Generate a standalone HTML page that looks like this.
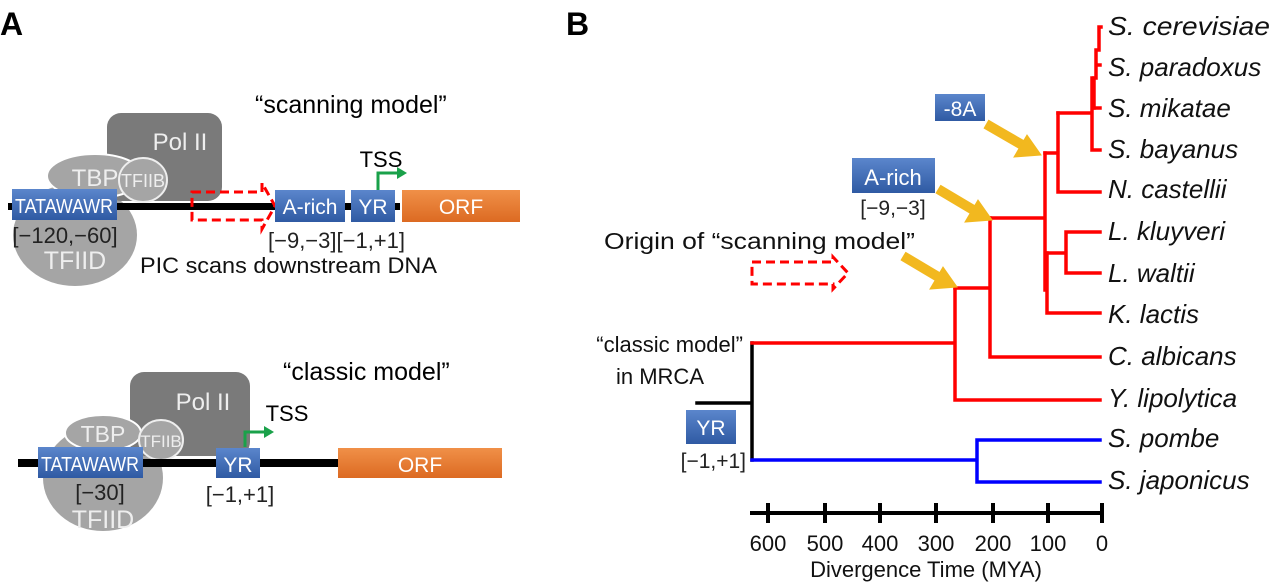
<!DOCTYPE html>
<html><head><meta charset="utf-8"><style>
html,body{margin:0;padding:0;background:#fff}
svg{display:block}
text{font-family:"Liberation Sans",sans-serif}
</style></head><body>
<svg width="1280" height="583" viewBox="0 0 1280 583" xmlns="http://www.w3.org/2000/svg">
<defs>
<linearGradient id="bl" x1="0" y1="0" x2="0" y2="1"><stop offset="0" stop-color="#5b86cc"/><stop offset="1" stop-color="#2f5aa3"/></linearGradient>
<linearGradient id="or" x1="0" y1="0" x2="0" y2="1"><stop offset="0" stop-color="#f09048"/><stop offset="1" stop-color="#dc6a22"/></linearGradient>
</defs>
<text x="0" y="35" font-size="32" font-weight="bold">A</text>
<text x="566" y="35" font-size="32" font-weight="bold">B</text>

<!-- Panel A top -->
<text x="255" y="113" font-size="25">“scanning model”</text>
<ellipse cx="75" cy="235" rx="62" ry="51" fill="#a5a5a5"/>
<rect x="107" y="113" width="115" height="88" rx="14" fill="#7a7a7a"/>
<text x="180" y="150" font-size="24" fill="#eee" text-anchor="middle">Pol II</text>
<ellipse cx="95" cy="176" rx="48" ry="22" fill="#a5a5a5" stroke="#fff" stroke-width="2"/>
<text x="95" y="186" font-size="24" fill="#eee" text-anchor="middle">TBP</text>
<ellipse cx="143" cy="180" rx="24" ry="22" fill="#a5a5a5" stroke="#eee" stroke-width="2"/>
<text x="143" y="187" font-size="18" fill="#eee" text-anchor="middle">TFIIB</text>
<rect x="8" y="203" width="392" height="7" fill="#000"/>
<rect x="12" y="189" width="105" height="31" fill="url(#bl)"/>
<text x="64" y="213" font-size="20" fill="#fff" text-anchor="middle" textLength="98" lengthAdjust="spacingAndGlyphs">TATAWAWR</text>
<text x="65" y="243" font-size="22" fill="#222" text-anchor="middle">[−120,−60]</text>
<text x="75" y="269" font-size="25" fill="#eee" text-anchor="middle">TFIID</text>
<path d="M192 192 H262 V183 L275 206 L262 229 V220 H192 Z" fill="none" stroke="#f00" stroke-width="3" stroke-dasharray="9,5"/>
<rect x="275" y="190" width="70" height="32" fill="url(#bl)"/>
<text x="310" y="214" font-size="21" fill="#fff" text-anchor="middle">A-rich</text>
<rect x="351" y="190" width="44" height="32" fill="url(#bl)"/>
<text x="373" y="214" font-size="21" fill="#fff" text-anchor="middle">YR</text>
<rect x="402" y="190" width="118" height="32" fill="url(#or)"/>
<text x="461" y="214" font-size="21" fill="#fff" text-anchor="middle">ORF</text>
<text x="381" y="167" font-size="22" text-anchor="middle">TSS</text>
<path d="M378 190 V173 H398" fill="none" stroke="#1aa14a" stroke-width="3"/>
<path d="M397 167 L407 173 L397 179 Z" fill="#1aa14a"/>
<text x="268" y="248" font-size="22" fill="#222">[−9,−3][−1,+1]</text>
<text x="140" y="273" font-size="22" fill="#111" textLength="297" lengthAdjust="spacingAndGlyphs">PIC scans downstream DNA</text>

<!-- Panel A bottom -->
<text x="283" y="380" font-size="25">“classic model”</text>
<ellipse cx="103" cy="478" rx="60" ry="53" fill="#a5a5a5"/>
<rect x="130" y="372" width="120" height="84" rx="14" fill="#7a7a7a"/>
<text x="203" y="410" font-size="24" fill="#eee" text-anchor="middle">Pol II</text>
<ellipse cx="103" cy="433" rx="38" ry="18" fill="#a5a5a5" stroke="#fff" stroke-width="2"/>
<text x="103" y="442" font-size="23" fill="#eee" text-anchor="middle">TBP</text>
<ellipse cx="161" cy="440" rx="22" ry="20" fill="#a5a5a5" stroke="#eee" stroke-width="2"/>
<text x="161" y="447" font-size="17" fill="#eee" text-anchor="middle">TFIIB</text>
<rect x="18" y="459" width="322" height="8" fill="#000"/>
<rect x="38" y="447" width="105" height="31" fill="url(#bl)"/>
<text x="90" y="471" font-size="20" fill="#fff" text-anchor="middle" textLength="98" lengthAdjust="spacingAndGlyphs">TATAWAWR</text>
<text x="100" y="500" font-size="22" fill="#222" text-anchor="middle">[−30]</text>
<text x="103" y="528" font-size="25" fill="#eee" text-anchor="middle">TFIID</text>
<rect x="216" y="448" width="44" height="30" fill="url(#bl)"/>
<text x="238" y="472" font-size="21" fill="#fff" text-anchor="middle">YR</text>
<rect x="338" y="448" width="164" height="30" fill="url(#or)"/>
<text x="420" y="472" font-size="21" fill="#fff" text-anchor="middle">ORF</text>
<text x="287" y="421" font-size="22" text-anchor="middle">TSS</text>
<path d="M245 447 V432 H265" fill="none" stroke="#1aa14a" stroke-width="3"/>
<path d="M264 426 L274 432 L264 438 Z" fill="#1aa14a"/>
<text x="240" y="502" font-size="22" fill="#222" text-anchor="middle">[−1,+1]</text>

<!-- Panel B tree -->
<g fill="none" stroke-width="3.5" stroke-linecap="square">
<path d="M697 403 H752 M752 343 V460" stroke="#000"/>
<path d="M752 460 H977 M977 440 V482 M977 440 H1100 M977 482 H1100" stroke="#00f"/>
<g stroke="#f00">
<path d="M752 343 H955 M955 288 V400 M955 400 H1100"/>
<path d="M955 288 H990 M990 218 V357 M990 357 H1100"/>
<path d="M990 218 H1045 M1045 153 V290 M1047 253 V313 M1047 313 H1100"/>
<path d="M1047 253 H1066 M1066 232 V273 M1066 232 H1100 M1066 273 H1100"/>
<path d="M1045 153 H1058 M1058 113 V192 M1058 192 H1100"/>
<path d="M1058 113 H1092 M1092 78 V150 M1092 150 H1100 M1092 108 H1100"/>
<path d="M1094 78 V108 M1096 50 V78 M1096 65 H1100 M1099 27 V50 M1099 27 H1101"/>
</g>
</g>
<g font-size="26" font-style="italic" fill="#111">
<text x="1108" y="35" textLength="162" lengthAdjust="spacingAndGlyphs">S. cerevisiae</text>
<text x="1108" y="76">S. paradoxus</text>
<text x="1108" y="117">S. mikatae</text>
<text x="1108" y="158">S. bayanus</text>
<text x="1108" y="198">N. castellii</text>
<text x="1108" y="240">L. kluyveri</text>
<text x="1108" y="282">L. waltii</text>
<text x="1108" y="323">K. lactis</text>
<text x="1108" y="365">C. albicans</text>
<text x="1108" y="407">Y. lipolytica</text>
<text x="1108" y="447">S. pombe</text>
<text x="1108" y="489">S. japonicus</text>
</g>
<!-- axis -->
<g stroke="#000" stroke-width="4">
<path d="M750 513 H1102"/>
<path d="M768 503 V523 M825 503 V523 M880 503 V523 M936 503 V523 M993 503 V523 M1048 503 V523 M1102 503 V523"/>
</g>
<g font-size="22" text-anchor="middle" fill="#111">
<text x="768" y="551">600</text><text x="825" y="551">500</text><text x="880" y="551">400</text><text x="936" y="551">300</text><text x="993" y="551">200</text><text x="1048" y="551">100</text><text x="1102" y="551">0</text>
<text x="926" y="577">Divergence  Time  (MYA)</text>
</g>
<!-- annotations -->
<text x="743" y="352" font-size="22" text-anchor="end" fill="#111">“classic model”</text>
<text x="660" y="384" font-size="22" text-anchor="middle" fill="#111">in MRCA</text>
<rect x="686" y="410" width="50" height="34" fill="url(#bl)"/>
<text x="711" y="435" font-size="21" fill="#fff" text-anchor="middle">YR</text>
<text x="746" y="468" font-size="21" text-anchor="end" fill="#222">[−1,+1]</text>
<text x="604" y="249" font-size="23" fill="#111" textLength="311" lengthAdjust="spacingAndGlyphs">Origin of “scanning model”</text>
<path d="M752 262 H833 V257 L848 273 L833 289 V284 H752 Z" fill="none" stroke="#f00" stroke-width="3" stroke-dasharray="9,5"/>
<rect x="852" y="158" width="83" height="35" fill="url(#bl)"/>
<text x="893" y="185" font-size="22" fill="#fff" text-anchor="middle">A-rich</text>
<text x="893" y="215" font-size="21" text-anchor="middle" fill="#222">[−9,−3]</text>
<rect x="935" y="94" width="50" height="27" fill="url(#bl)"/>
<text x="960" y="116" font-size="21" fill="#fff" text-anchor="middle">-8A</text>
<g stroke="#f2b81f" stroke-width="10" fill="#f2b81f">
<path d="M986 124 L1024 146" fill="none"/>
<path d="M1041 155 L1014 157 L1027 135 Z" stroke-width="1"/>
<path d="M938 189 L975 211" fill="none"/>
<path d="M992 220 L965 222 L978 200 Z" stroke-width="1"/>
<path d="M903 256 L940 278" fill="none"/>
<path d="M957 287 L930 289 L943 267 Z" stroke-width="1"/>
</g>
</svg>
</body></html>
